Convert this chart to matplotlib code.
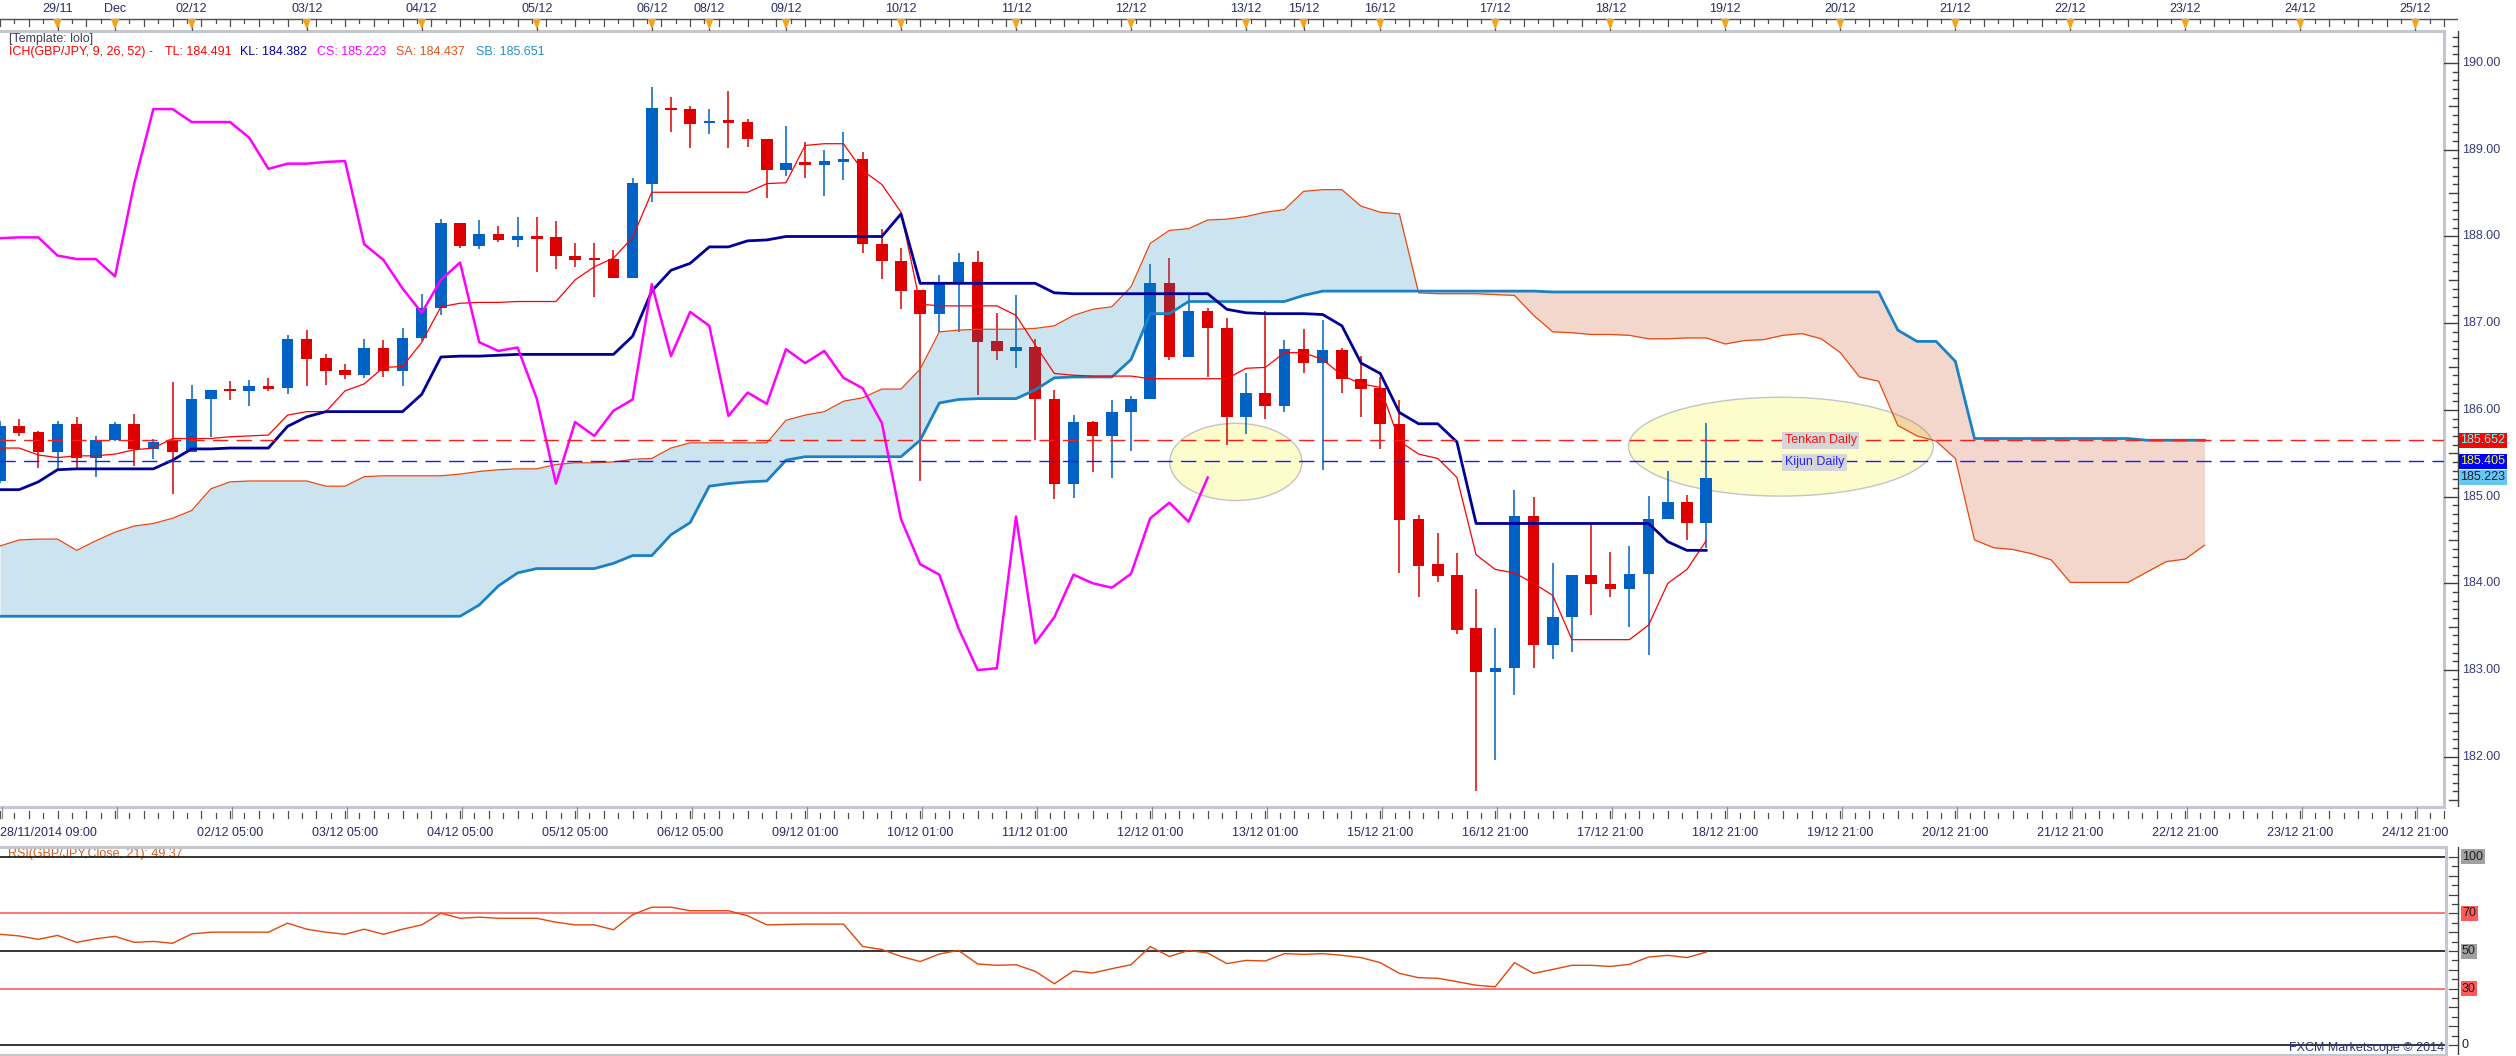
import numpy as np
import matplotlib
matplotlib.use("Agg")
import matplotlib.pyplot as plt
from matplotlib.patches import Ellipse, Polygon

W, H = 2516, 1056
BAR = 19.17  # pixels per 4h bar

# ---- GBP/JPY 4h candles ----
opens = [185.18, 185.81, 185.74, 185.51, 185.84, 185.44, 185.65, 185.84, 185.55, 185.64,
         185.51, 186.12, 186.24, 186.22, 186.27, 186.25, 186.82, 186.60, 186.46, 186.40,
         186.71, 186.45, 186.83, 187.17, 188.15, 187.89, 188.03, 187.96, 187.99, 187.99,
         187.78, 187.75, 187.74, 187.52, 188.61, 189.48, 189.47, 189.31, 189.33, 189.32,
         189.12, 188.77, 188.85, 188.83, 188.86, 188.89, 187.91, 187.72, 187.38, 187.11,
         187.48, 187.71, 186.79, 186.68, 186.72, 186.12, 185.14, 185.86, 185.70, 185.98,
         186.12, 187.46, 186.61, 187.14, 186.95, 185.92, 186.20, 186.05, 186.70, 186.54,
         186.69, 186.36, 186.25, 185.84, 184.74, 184.22, 184.10, 183.48, 182.98, 183.02,
         184.78, 183.29, 183.61, 184.10, 183.99, 183.94, 184.11, 184.74, 184.94, 184.70]
highs = [185.87, 185.89, 185.76, 185.87, 185.92, 185.70, 185.86, 185.95, 185.67, 186.32,
         186.29, 186.23, 186.33, 186.35, 186.37, 186.86, 186.92, 186.65, 186.53, 186.82,
         186.81, 186.94, 187.34, 188.20, 188.15, 188.19, 188.12, 188.23, 188.23, 188.18,
         187.93, 187.93, 187.84, 188.67, 189.72, 189.61, 189.51, 189.47, 189.68, 189.36,
         189.12, 189.27, 189.09, 189.00, 189.21, 188.98, 188.09, 187.87, 187.38, 187.56,
         187.81, 187.83, 187.12, 187.32, 186.82, 186.23, 185.94, 185.87, 186.11, 186.16,
         187.68, 187.75, 187.35, 187.18, 187.06, 186.43, 187.14, 186.81, 186.93, 187.04,
         186.71, 186.62, 186.38, 186.11, 184.79, 184.58, 184.35, 183.94, 183.48, 185.08,
         185.00, 184.23, 184.10, 184.69, 184.36, 184.43, 185.01, 185.29, 185.02, 185.85]
lows = [185.16, 185.70, 185.33, 185.31, 185.33, 185.23, 185.64, 185.35, 185.43, 185.03,
        185.51, 185.69, 186.11, 186.04, 186.22, 186.18, 186.27, 186.29, 186.36, 186.37,
        186.38, 186.28, 186.80, 187.09, 187.87, 187.86, 187.94, 187.88, 187.59, 187.62,
        187.65, 187.30, 187.52, 187.52, 188.40, 189.21, 189.02, 189.18, 189.02, 189.03,
        188.44, 188.70, 188.67, 188.47, 188.65, 187.81, 187.51, 187.16, 185.18, 186.90,
        186.90, 186.17, 186.58, 186.48, 185.65, 184.97, 184.98, 185.28, 185.21, 185.53,
        186.12, 186.58, 186.61, 186.38, 185.60, 185.72, 185.90, 185.98, 186.43, 185.31,
        186.19, 185.92, 185.55, 184.12, 183.84, 184.02, 183.41, 181.61, 181.96, 182.71,
        183.02, 183.13, 183.21, 183.64, 183.84, 183.50, 183.17, 184.74, 184.50, 184.41]
closes = [185.81, 185.73, 185.51, 185.84, 185.44, 185.65, 185.84, 185.55, 185.63, 185.51,
          186.13, 186.23, 186.22, 186.27, 186.24, 186.82, 186.59, 186.45, 186.40, 186.71,
          186.45, 186.83, 187.18, 188.15, 187.89, 188.03, 187.96, 188.00, 187.98, 187.78,
          187.73, 187.73, 187.52, 188.62, 189.48, 189.46, 189.30, 189.33, 189.32, 189.12,
          188.77, 188.85, 188.83, 188.87, 188.89, 187.91, 187.72, 187.37, 187.11, 187.48,
          187.71, 186.78, 186.68, 186.72, 186.12, 185.14, 185.86, 185.70, 185.98, 186.13,
          187.46, 186.61, 187.14, 186.95, 185.92, 186.20, 186.05, 186.70, 186.54, 186.69,
          186.36, 186.24, 185.84, 184.73, 184.20, 184.09, 183.46, 182.98, 183.02, 184.78,
          183.29, 183.61, 184.10, 183.99, 183.94, 184.11, 184.74, 184.94, 184.70, 185.22]

# ---- Ichimoku lines ----
tenkan = [185.56, 185.56, 185.48, 185.45, 185.47, 185.47, 185.49, 185.54, 185.56, 185.67,
          185.67, 185.67, 185.69, 185.70, 185.71, 185.94, 185.98, 185.98, 186.22, 186.30,
          186.49, 186.50, 186.78, 187.19, 187.23, 187.24, 187.24, 187.25, 187.25, 187.25,
          187.50, 187.65, 187.75, 187.99, 188.51, 188.51, 188.51, 188.51, 188.51, 188.51,
          188.61, 188.62, 189.05, 189.07, 189.07, 188.76, 188.60, 188.28, 187.22, 187.20,
          187.20, 187.20, 187.20, 187.09, 186.75, 186.42, 186.40, 186.39, 186.39, 186.39,
          186.36, 186.36, 186.36, 186.36, 186.36, 186.48, 186.49, 186.66, 186.66, 186.58,
          186.40, 186.30, 186.26, 185.64, 185.49, 185.44, 185.22, 184.33, 184.16, 184.12,
          184.00, 183.86, 183.35, 183.35, 183.35, 183.35, 183.52, 184.00, 184.16, 184.49]
kijun = [185.08, 185.08, 185.17, 185.31, 185.32, 185.32, 185.32, 185.32, 185.32, 185.42,
         185.55, 185.55, 185.56, 185.56, 185.56, 185.81, 185.92, 185.98, 185.98, 185.98,
         185.98, 185.98, 186.18, 186.61, 186.62, 186.62, 186.63, 186.64, 186.64, 186.64,
         186.64, 186.64, 186.64, 186.85, 187.37, 187.61, 187.69, 187.88, 187.88, 187.95,
         187.96, 188.00, 188.00, 188.00, 188.00, 188.00, 188.00, 188.26, 187.46, 187.46,
         187.46, 187.46, 187.46, 187.46, 187.46, 187.35, 187.34, 187.34, 187.34, 187.34,
         187.34, 187.34, 187.34, 187.34, 187.16, 187.12, 187.11, 187.11, 187.11, 187.10,
         186.97, 186.54, 186.42, 185.97, 185.84, 185.84, 185.63, 184.69, 184.69, 184.69,
         184.69, 184.69, 184.69, 184.69, 184.69, 184.69, 184.69, 184.48, 184.38, 184.38]
chikou = [187.98, 187.99, 187.99, 187.78, 187.74, 187.74, 187.54, 188.61, 189.47, 189.47,
          189.32, 189.32, 189.32, 189.14, 188.78, 188.84, 188.84, 188.86, 188.87, 187.91,
          187.73, 187.40, 187.12, 187.50, 187.70, 186.78, 186.68, 186.72, 186.13, 185.15,
          185.86, 185.70, 185.99, 186.12, 187.45, 186.62, 187.13, 186.97, 185.93, 186.20,
          186.07, 186.70, 186.54, 186.68, 186.37, 186.25, 185.85, 184.74, 184.22, 184.10,
          183.48, 183.00, 183.02, 184.77, 183.31, 183.61, 184.10, 184.00, 183.95, 184.11,
          184.75, 184.93, 184.71, 185.22]
senkou_a = [184.43, 184.50, 184.51, 184.51, 184.38, 184.49, 184.59, 184.66, 184.69, 184.75,
            184.84, 185.09, 185.17, 185.18, 185.18, 185.18, 185.18, 185.12, 185.12, 185.23,
            185.24, 185.24, 185.24, 185.24, 185.26, 185.29, 185.31, 185.32, 185.32, 185.37,
            185.39, 185.39, 185.40, 185.43, 185.44, 185.56, 185.62, 185.62, 185.62, 185.62,
            185.62, 185.88, 185.94, 185.98, 186.10, 186.14, 186.24, 186.24, 186.47, 186.90,
            186.92, 186.93, 186.93, 186.93, 186.94, 186.97, 187.09, 187.16, 187.19, 187.42,
            187.92, 188.07, 188.09, 188.19, 188.20, 188.23, 188.28, 188.31, 188.52, 188.54,
            188.54, 188.35, 188.28, 188.26, 187.35, 187.34, 187.34, 187.34, 187.33, 187.32,
            187.09, 186.90, 186.89, 186.87, 186.87, 186.86, 186.82, 186.82, 186.83, 186.83,
            186.76, 186.80, 186.81, 186.86, 186.88, 186.82, 186.66, 186.38, 186.33, 185.82,
            185.70, 185.64, 185.44, 184.50, 184.41, 184.39, 184.34, 184.27, 184.01, 184.01,
            184.01, 184.01, 184.13, 184.25, 184.28, 184.44]
senkou_b = [183.62, 183.62, 183.62, 183.62, 183.62, 183.62, 183.62, 183.62, 183.62, 183.62,
            183.62, 183.62, 183.62, 183.62, 183.62, 183.62, 183.62, 183.62, 183.62, 183.62,
            183.62, 183.62, 183.62, 183.62, 183.62, 183.75, 183.97, 184.12, 184.17, 184.17,
            184.17, 184.17, 184.23, 184.32, 184.32, 184.56, 184.70, 185.12, 185.15, 185.17,
            185.18, 185.42, 185.46, 185.46, 185.46, 185.46, 185.46, 185.46, 185.65, 186.08,
            186.12, 186.13, 186.13, 186.13, 186.23, 186.37, 186.38, 186.38, 186.38, 186.58,
            187.11, 187.11, 187.25, 187.25, 187.25, 187.25, 187.25, 187.25, 187.32, 187.37,
            187.37, 187.37, 187.37, 187.37, 187.37, 187.37, 187.37, 187.37, 187.37, 187.37,
            187.37, 187.36, 187.36, 187.36, 187.36, 187.36, 187.36, 187.36, 187.36, 187.36,
            187.36, 187.36, 187.36, 187.36, 187.36, 187.36, 187.36, 187.36, 187.36, 186.92,
            186.79, 186.79, 186.56, 185.67, 185.67, 185.67, 185.67, 185.67, 185.67, 185.67,
            185.67, 185.67, 185.65, 185.65, 185.65, 185.65]

# ---- RSI(21) ----
rsi = [58.9, 58.0, 56.2, 58.3, 54.6, 56.5, 57.8, 54.6, 55.1, 54.1,
       59.1, 60.0, 60.0, 60.0, 60.0, 64.8, 61.6, 60.0, 58.9, 61.6,
       58.9, 61.6, 63.9, 70.1, 67.4, 68.0, 67.4, 67.4, 67.4, 65.3,
       63.9, 63.9, 61.3, 69.3, 73.3, 73.3, 71.4, 71.4, 71.4, 68.7,
       63.9, 64.1, 64.3, 64.3, 64.3, 52.4, 50.8, 47.1, 44.4, 48.4,
       50.3, 43.1, 42.4, 42.7, 39.2, 32.6, 39.4, 38.3, 40.6, 42.7,
       52.4, 47.1, 50.3, 48.9, 43.3, 45.0, 44.7, 48.6, 48.2, 48.6,
       47.7, 46.5, 43.8, 38.1, 35.8, 35.5, 33.7, 31.8, 31.0, 43.8,
       38.1, 40.2, 42.4, 42.4, 41.8, 42.9, 46.8, 47.7, 46.5, 49.4]

tenkan_daily = 185.652
kijun_daily = 185.405
last_close = 185.223

top_days = ["29/11", "Dec", "02/12", "03/12", "04/12", "05/12", "06/12", "08/12", "09/12",
            "10/12", "11/12", "12/12", "13/12", "15/12", "16/12", "17/12", "18/12", "19/12",
            "20/12", "21/12", "22/12", "23/12", "24/12", "25/12"]
top_day_bars = [3, 6, 10, 16, 22, 28, 34, 37, 41, 47, 53, 59, 65, 68, 72, 78, 84, 90,
                96, 102, 108, 114, 120, 126]
bottom_labels = ["28/11/2014 09:00", "02/12 05:00", "03/12 05:00", "04/12 05:00", "05/12 05:00",
                 "06/12 05:00", "09/12 01:00", "10/12 01:00", "11/12 01:00", "12/12 01:00",
                 "13/12 01:00", "15/12 21:00", "16/12 21:00", "17/12 21:00", "18/12 21:00",
                 "19/12 21:00", "20/12 21:00", "21/12 21:00", "22/12 21:00", "23/12 21:00",
                 "24/12 21:00"]
bottom_label_bars = [0, 12, 18, 24, 30, 36, 42, 48, 54, 60, 66, 72, 78, 84, 90, 96, 102,
                     108, 114, 120, 126]

plt.rcParams['font.family'] = ['Liberation Sans', 'DejaVu Sans']
plt.rcParams['font.size'] = 9

BORDER = '#c3c8d0'
NAVY_TXT = '#2a2a66'


def box(x0, y0, x1, y1):
    return [x0 / W, 1 - y1 / H, (x1 - x0) / W, (y1 - y0) / H]


fig = plt.figure(figsize=(W / 100, H / 100), dpi=100)
fig.patch.set_facecolor('white')

# ---------------- main price panel ----------------
ax = fig.add_axes(box(0, 31, 2444, 807))
ax.set_xlim(0, 2444 / BAR)
ax.set_ylim(181.42, 190.37)
ax.set_xticks([])
ax.set_yticks([])
for s in ['top', 'right', 'bottom']:
    ax.spines[s].set_color(BORDER)
    ax.spines[s].set_linewidth(2.2)
ax.spines['left'].set_visible(False)

# highlighted zones sit under everything else
for cx, cy, ew, eh in [(64.47, 185.40, 6.9, 0.89), (92.9, 185.576, 15.9, 1.14)]:
    ax.add_patch(Ellipse((cx, cy), ew, eh, facecolor='#fdfdcb', edgecolor='#c4c4c4',
                         lw=1.0, zorder=1))

o = np.array(opens)
c = np.array(closes)
x = np.arange(len(closes))
cols = np.where(c >= o, '#0062c4', '#dd0000')
ax.vlines(x, lows, highs, colors=cols, lw=1.1, zorder=2)
body_h = np.maximum(np.abs(c - o), 0.03)
ax.bar(x, body_h, bottom=(o + c) / 2 - body_h / 2, width=0.6, color=cols, lw=0, zorder=2)

xs = np.arange(len(senkou_a))
sa = np.array(senkou_a)
sb = np.array(senkou_b)
ax.fill_between(xs, sa, sb, where=sa >= sb, interpolate=True,
                color=(27 / 255, 132 / 255, 186 / 255), alpha=0.22, lw=0, zorder=3)
ax.fill_between(xs, sa, sb, where=sa < sb, interpolate=True,
                color=(209 / 255, 77 / 255, 23 / 255), alpha=0.22, lw=0, zorder=3)
ax.plot(xs, sa, color='#e8480f', lw=0.9, zorder=4)
ax.plot(xs, sb, color='#1a82c4', lw=2.0, zorder=4)
ax.plot(x, tenkan, color='#ff0000', lw=0.9, zorder=4)
ax.plot(x, kijun, color='#000099', lw=2.0, zorder=4)
ax.plot(np.arange(len(chikou)), chikou, color='#ff00ff', lw=1.8, zorder=4)

ax.axhline(tenkan_daily, color='#ff1a1a', lw=1.0, ls=(0, (11, 6)), zorder=4)
ax.axhline(kijun_daily, color='#1a1aff', lw=1.0, ls=(0, (11, 6)), zorder=4)

ax.text(93.1, tenkan_daily, 'Tenkan Daily', color='#ff1010', va='center', ha='left',
        bbox=dict(boxstyle='square,pad=0.2', fc='#d6d6d6', ec='none'), zorder=6)
ax.text(93.1, kijun_daily - 0.01, 'Kijun Daily', color='#2222ff', va='center', ha='left',
        bbox=dict(boxstyle='square,pad=0.2', fc='#d6d6d6', ec='none'), zorder=6)

# ---------------- price scale ----------------
ax_r = fig.add_axes(box(2444, 31, 2516, 807))
ax_r.set_ylim(ax.get_ylim())
ax_r.set_xlim(2444, 2516)
ax_r.axis('off')
ax_r.axvline(2458, color='#404040', lw=1.0)
ticks = np.round(np.arange(181.5, 190.35, 0.1), 1)
for t in ticks:
    if abs(t - round(t)) < 1e-6:
        ax_r.plot([2444, 2458], [t, t], color='#404040', lw=1.0)
        ax_r.text(2462, t, f"{t:.2f}", color='#3a3a78', va='center', ha='left')
    elif abs(t * 2 - round(t * 2)) < 1e-6:
        ax_r.plot([2449, 2458], [t, t], color='#404040', lw=1.0)
    else:
        ax_r.plot([2453, 2458], [t, t], color='#404040', lw=1.0)
for val, fc, tc in [(tenkan_daily, '#ff0000', '#66ffff'),
                    (kijun_daily, '#0000ff', '#ffff00'),
                    (last_close, '#66c8f0', '#1a1a40')]:
    ax_r.text(2460, val, f"{val:.3f}", color=tc, va='center', ha='left', zorder=5,
              bbox=dict(boxstyle='square,pad=0.12', fc=fc, ec='none'))

# ---------------- top date strip ----------------
ax_t = fig.add_axes(box(0, 0, 2458, 31))
ax_t.set_xlim(0, 2458 / BAR)
ax_t.set_ylim(31, 0)
ax_t.axis('off')
ax_t.axhline(19, color='#505050', lw=1.0)
for i, t in enumerate(np.arange(0.0, 2458 / BAR, 0.75)):
    ax_t.plot([t, t], [19, 23 if i % 2 else 26], color='#505050', lw=0.9)
for lab, b in zip(top_days, top_day_bars):
    ax_t.plot([b, b], [19, 31], color='#505050', lw=0.9)
    ax_t.add_patch(Polygon([(b - 0.22, 19), (b + 0.22, 19), (b, 29.5)], closed=True,
                           fc='#f5a31a', ec='none', zorder=3))
    ax_t.text(b, 9, lab, color=NAVY_TXT, ha='center', va='center')

# ---------------- bottom date strip ----------------
ax_b = fig.add_axes(box(0, 807, 2458, 847))
ax_b.set_xlim(0, 2458 / BAR)
ax_b.set_ylim(847, 807)
ax_b.axis('off')
for i, t in enumerate(np.arange(0.0, 2458 / BAR, 0.75)):
    ax_b.plot([t, t], [813 if i % 2 else 811, 818], color='#505050', lw=0.9)
for b in range(0, 128, 6):
    ax_b.plot([b + 0.08, b + 0.08], [807, 818], color='#909090', lw=0.9)
for lab, b in zip(bottom_labels, bottom_label_bars):
    ax_b.text(b, 833, lab, color=NAVY_TXT, ha='left' if b == 0 else 'center', va='center')

# ---------------- RSI panel ----------------
ax_s = fig.add_axes(box(0, 847, 2446, 1055))
ax_s.set_xlim(0, 2446 / BAR)
ax_s.set_ylim(-5.3, 105.3)
ax_s.set_xticks([])
ax_s.set_yticks([])
for s in ['top', 'right', 'bottom']:
    ax_s.spines[s].set_color(BORDER)
    ax_s.spines[s].set_linewidth(2.2)
ax_s.spines['left'].set_visible(False)
for lvl, col in [(100, 'black'), (70, '#ff5050'), (50, 'black'), (30, '#ff5050'), (0, 'black')]:
    ax_s.axhline(lvl, color=col, lw=1.1, zorder=2)
ax_s.plot(np.arange(len(rsi)), rsi, color='#e0480c', lw=1.0, zorder=3)
ax_s.text(8 / BAR, 101.8, 'RSI(GBP/JPY,Close, 21): 49.37', color='#e05a10',
          ha='left', va='center', zorder=1)

ax_sr = fig.add_axes(box(2446, 847, 2516, 1055))
ax_sr.set_ylim(-5.3, 105.3)
ax_sr.set_xlim(2446, 2516)
ax_sr.axis('off')
ax_sr.axvline(2458, color='#404040', lw=1.0)
for t in range(0, 101, 5):
    ax_sr.plot([2452 if t % 10 else 2449, 2458], [t, t], color='#404040', lw=0.9)
for lvl, fc in [(100, '#a0a0a0'), (70, '#ff5a5a'), (50, '#a0a0a0'), (30, '#ff5a5a'), (0, 'none')]:
    ax_sr.text(2462, lvl, str(lvl), color='#202020', ha='left', va='center',
               bbox=dict(boxstyle='square,pad=0.12', fc=fc, ec='none'))

# ---------------- header texts ----------------
fig.text(9 / W, 1 - 39 / H, '[Template: lolo]', color='#404058', va='center')
for x0, txt, col in [(9, 'ICH(GBP/JPY, 9, 26, 52) -', '#ff0000'),
                     (165, 'TL: 184.491', '#ff0000'),
                     (240, 'KL: 184.382', '#0000a0'),
                     (317, 'CS: 185.223', '#ff00ff'),
                     (396, 'SA: 184.437', '#e8501a'),
                     (476, 'SB: 185.651', '#2090d0')]:
    fig.text(x0 / W, 1 - 52 / H, txt, color=col, va='center', ha='left')
fig.text(2444 / W, 1 - 1048 / H, 'FXCM Marketscope \u00a9 2014', color='#30307a',
         ha='right', va='center')

fig.savefig('out.png', dpi=100)
